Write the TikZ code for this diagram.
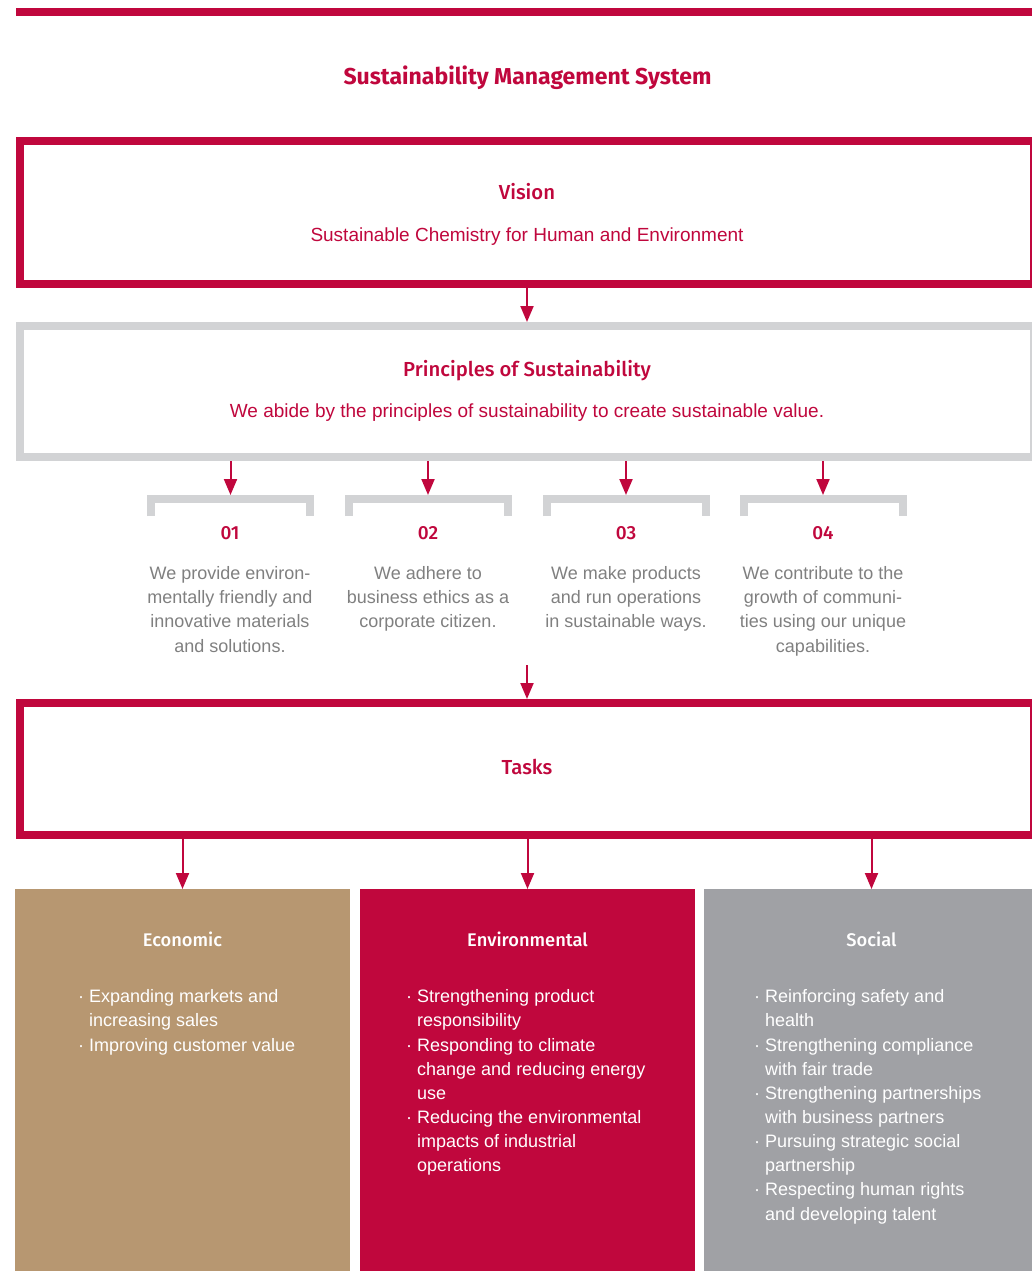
\documentclass[tikz,border=0pt]{standalone}
\usepackage{fontspec}
\setmainfont{Liberation Sans}
\newfontfamily\headfont{Fira Sans}
\newfontfamily\headmed{Fira Sans Medium}
\usetikzlibrary{arrows.meta,calc}
\definecolor{lgred}{HTML}{C0073D}
\definecolor{lightgrey}{HTML}{D2D3D5}
\definecolor{tanbox}{HTML}{B79771}
\definecolor{socgrey}{HTML}{A0A1A5}
\definecolor{desc}{HTML}{808080}
\newcommand\lgind{\phantom{·\ }}
\begin{document}
\begin{tikzpicture}[x=1pt,y=-1pt,
  redbox/.style={draw=lgred,line width=8pt,minimum width=1014pt,inner sep=0pt},
  greybox/.style={draw=lightgrey,line width=8pt,minimum width=1014pt,inner sep=0pt},
  arr/.style={draw=lgred,line width=2pt,-{Triangle[width=13pt,length=16pt]}},
  bracketline/.style={draw=lightgrey,line width=8pt,line join=miter},
  headtxt/.style={text=lgred,font=\headmed\fontsize{20.3}{24}\selectfont,anchor=base,inner sep=0pt},
  subtxt/.style={text=lgred,font=\fontsize{19}{24}\selectfont,anchor=base,inner sep=0pt},
  numtxt/.style={text=lgred,font=\headmed\fontsize{19}{24}\selectfont,anchor=base,inner sep=0pt},
  desctxt/.style={text=desc,font=\fontsize{18}{24.3}\selectfont,align=center,anchor=north,inner sep=0pt},
  taskbox/.style={minimum width=335pt,minimum height=400pt,inner sep=0pt,draw=none},
  boxhead/.style={text=white,font=\headmed\fontsize{18.3}{24}\selectfont,anchor=base,inner sep=0pt},
  listtxt/.style={text=white,font=\fontsize{18}{24.15}\selectfont,align=left,anchor=north west,inner sep=0pt}
]
\clip (0,0) rectangle (1032,1271);
\fill[white] (0,0) rectangle (1032,1271);
% top rule
\fill[lgred] (16,8) rectangle (1040,16);
\node[text=lgred,font=\headfont\bfseries\fontsize{23}{27}\selectfont,anchor=base,inner sep=0pt] (title) at (527.5,84.5) {Sustainability Management System};

% Vision
\node[redbox,minimum height=143pt] (vision) at (527,212.5) {};
\node[headtxt] (visionT) at (527,199) {Vision};
\node[subtxt] (visionS) at (527,241.5) {Sustainable Chemistry for Human and Environment};

% Principles
\node[greybox,minimum height=131pt] (principles) at (527,391.5) {};
\node[headtxt] (princT) at (527,376) {Principles of Sustainability};
\node[subtxt] (princS) at (527,417.5) {We abide by the principles of sustainability to create sustainable value.};
\draw[arr] (vision.south) -- (principles.north);

% brackets
\foreach \i/\x in {1/230.5,2/428,3/626,4/823}{
  \coordinate (b\i) at (\x,495);
  \draw[bracketline] ($(b\i)+(-79.5,21)$) -- ($(b\i)+(-79.5,4)$) -- ($(b\i)+(79.5,4)$) -- ($(b\i)+(79.5,21)$);
  \draw[arr] (principles.south -| b\i) -- (b\i);
}
\node[numtxt] (n1) at (230,539.5) {01};
\node[numtxt] (n2) at (428,539.5) {02};
\node[numtxt] (n3) at (626,539.5) {03};
\node[numtxt] (n4) at (823,539.5) {04};
\node[desctxt] (d1) at (230,566) {We provide environ-\\mentally friendly and\\innovative materials\\and solutions.};
\node[desctxt] (d2) at (428,566) {We adhere to\\business ethics as a\\corporate citizen.};
\node[desctxt] (d3) at (626,566) {We make products\\and run operations\\in sustainable ways.};
\node[desctxt] (d4) at (823,566) {We contribute to the\\growth of communi-\\ties using our unique\\capabilities.};

% Tasks
\coordinate (tin) at (527,665);
\node[redbox,minimum height=132pt] (tasks) at (527,769) {};
\node[headtxt] (tasksT) at (527,774) {Tasks};
\draw[arr] (tin) -- (tasks.north);

% bottom boxes
\node[taskbox,fill=tanbox,anchor=north] (econ) at (182.5,889) {};
\node[taskbox,fill=lgred,anchor=north] (env) at (527.5,889) {};
\node[taskbox,fill=socgrey,anchor=north] (soc) at (871.5,889) {};
\draw[arr] (tasks.south -| econ) -- (econ.north);
\draw[arr] (tasks.south -| env) -- (env.north);
\draw[arr] (tasks.south -| soc) -- (soc.north);

\node[boxhead] (econT) at (182.5,946.5) {Economic};
\node[boxhead] (envT) at (527.5,946.5) {Environmental};
\node[boxhead] (socT) at (871.5,946.5) {Social};

\node[listtxt] (econL) at (78,989.5) {· Expanding markets and\\\lgind increasing sales\\· Improving customer value};
\node[listtxt] (envL) at (406,989.5) {· Strengthening product\\\lgind responsibility\\· Responding to climate\\\lgind change and reducing energy\\\lgind use\\· Reducing the environmental\\\lgind impacts of industrial\\\lgind operations};
\node[listtxt] (socL) at (754,989.5) {· Reinforcing safety and\\\lgind health\\· Strengthening compliance\\\lgind with fair trade\\· Strengthening partnerships\\\lgind with business partners\\· Pursuing strategic social\\\lgind partnership\\· Respecting human rights\\\lgind and developing talent};
\end{tikzpicture}
\end{document}
